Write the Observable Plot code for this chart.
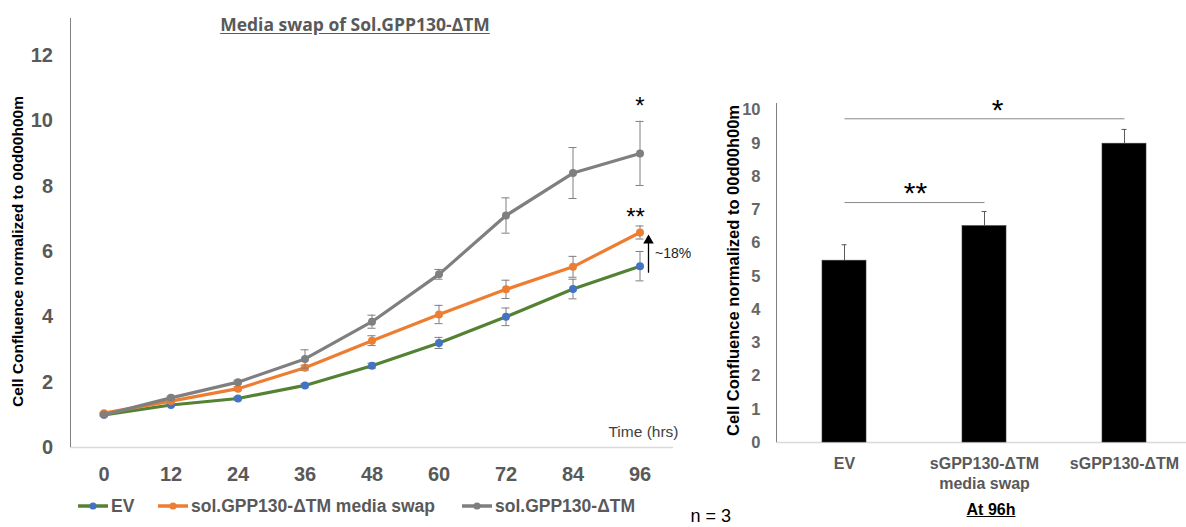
<!DOCTYPE html>
<html>
<head>
<meta charset="utf-8">
<script src="https://cdn.jsdelivr.net/npm/d3@7"></script>
<script src="https://cdn.jsdelivr.net/npm/@observablehq/plot@0.6"></script>
<style>
  body { margin: 0; background: #fff; }
  #wrap { position: relative; width: 1186px; height: 527px; overflow: hidden; font-family: "Liberation Sans", Arial, sans-serif; }
  #left, #right { position: absolute; top: 0; }
  #left { left: 0; }
  #right { left: 680px; }
  .title { position: absolute; left: 0; width: 710px; top: 13px; text-align: center; font-family: "Open Sans", sans-serif; font-weight: 700; font-size: 17.5px; line-height: 22px; color: #595959; text-decoration: underline; text-underline-offset: 2px; }
  .legend .item { position: absolute; top: 496px; height: 20px; display: flex; align-items: center; font-weight: 700; font-size: 17.5px; color: #595959; white-space: nowrap; }
  .legend svg { margin-right: 3px; }
  .at96 { position: absolute; left: 891px; width: 200px; top: 500px; text-align: center; font-weight: 700; font-size: 16px; line-height: 20px; color: #000; text-decoration: underline; }
</style>
</head>
<body>
<div id="wrap">
  <div id="left"></div>
  <div id="right"></div>
  <div class="title">Media swap of Sol.GPP130-ΔTM</div>
  <div class="legend" id="legend"></div>
  <div class="at96">At 96h</div>
</div>
<script>
// ---- Line chart data (Cell confluence over time) ----
const times = [0, 12, 24, 36, 48, 60, 72, 84, 96];
const seriesNames = ["EV", "sol.GPP130-ΔTM media swap", "sol.GPP130-ΔTM"];
const evValues   = [1.00, 1.30, 1.50, 1.90, 2.50, 3.20, 4.00, 4.85, 5.55];
const evErrors   = [0.03, 0.04, 0.05, 0.05, 0.08, 0.17, 0.27, 0.30, 0.45];
const swapValues = [1.05, 1.42, 1.80, 2.44, 3.27, 4.07, 4.84, 5.53, 6.58];
const swapErrors = [0.03, 0.05, 0.06, 0.08, 0.15, 0.28, 0.28, 0.32, 0.20];
const solValues  = [1.00, 1.52, 2.00, 2.71, 3.85, 5.30, 7.10, 8.40, 9.00];
const solErrors  = [0.03, 0.05, 0.06, 0.28, 0.20, 0.15, 0.54, 0.78, 0.98];
const yTicksLeft = [0, 2, 4, 6, 8, 10, 12];

// ---- Bar chart data (at 96h) ----
const barCategories = ["EV", "sGPP130-ΔTM\nmedia swap", "sGPP130-ΔTM"];
const barValues = [5.47, 6.51, 8.99];
const barErrors = [0.48, 0.44, 0.43];
const yTicksRight = [0, 1, 2, 3, 4, 5, 6, 7, 8, 9, 10];
const sigFrom = ["EV", "EV"];
const sigTo = ["sGPP130-ΔTM", "sGPP130-ΔTM\nmedia swap"];
const sigLevels = [9.74, 7.22];
const sigLabels = ["*", "**"];
const sampleNote = "n = 3";

const lineColors = ["#548235", "#ED7D31", "#7F7F7F"];
const markerColors = ["#4472C4", "#ED7D31", "#7F7F7F"];
const legendLeft = [78, 158, 462];
const FONT = "Liberation Sans, Arial, sans-serif";

const valueSets = [evValues, swapValues, solValues];
const errorSets = [evErrors, swapErrors, solErrors];
const series = seriesNames.map((name, k) => ({
  name, color: lineColors[k], marker: markerColors[k],
  rows: times.map((t, i) => ({t, v: valueSets[k][i], e: errorSets[k][i]}))
}));

const capHalf = 0.72; // hours, half width of error caps
const last = times.length - 1;

const seriesMarks = series.flatMap(s => [
  Plot.line(s.rows, {x: "t", y: "v", stroke: s.color, strokeWidth: 3.2, strokeLinejoin: "round", strokeLinecap: "round"}),
  Plot.ruleX(s.rows, {x: "t", y1: d => d.v - d.e, y2: d => d.v + d.e, stroke: "#7f7f7f", strokeWidth: 1}),
  Plot.ruleY(s.rows, {y: d => d.v + d.e, x1: d => d.t - capHalf, x2: d => d.t + capHalf, stroke: "#7f7f7f", strokeWidth: 1}),
  Plot.ruleY(s.rows, {y: d => d.v - d.e, x1: d => d.t - capHalf, x2: d => d.t + capHalf, stroke: "#7f7f7f", strokeWidth: 1}),
  Plot.dot(s.rows, {x: "t", y: "v", r: 4, fill: s.marker, stroke: "none"})
]);

const tEnd = times[last];
const left = Plot.plot({
  width: 700, height: 527,
  marginLeft: 70, marginRight: 27, marginTop: 18, marginBottom: 80,
  style: {fontFamily: FONT, fontWeight: "bold", background: "transparent", overflow: "visible"},
  x: {domain: [-6, 102]},
  y: {domain: [0, 13.13]},
  marks: [
    Plot.ruleY([0], {stroke: "#d9d9d9", strokeWidth: 1.3}),
    Plot.ruleX([-6], {stroke: "#808080", strokeWidth: 1}),
    Plot.axisX(times, {tickSize: 0, tickPadding: 19, fontSize: 20, fontWeight: "bold", fill: "#595959", label: null}),
    Plot.axisY(yTicksLeft, {tickSize: 0, tickPadding: 17.5, fontSize: 20, fontWeight: "bold", fill: "#595959", label: null}),
    ...seriesMarks,
    // significance marks at 96h
    Plot.text([{t: tEnd, v: solValues[last] + solErrors[last]}], {x: "t", y: "v", text: () => "*", dy: -14.8, lineAnchor: "middle", fontSize: 24, fontWeight: "normal", fill: "#000"}),
    Plot.text([{t: tEnd, v: swapValues[last] + swapErrors[last]}], {x: "t", y: "v", text: () => "**", dx: -4.4, dy: -8.3, lineAnchor: "middle", fontSize: 24, fontWeight: "normal", fill: "#000"}),
    // ~18% arrow
    Plot.arrow([{t: tEnd, a: evValues[last], b: swapValues[last]}], {x1: "t", x2: "t", y1: "a", y2: "b", dx: 8.5, insetStart: -6, insetEnd: 4, headLength: 0, stroke: "#000", strokeWidth: 1.3}),
    Plot.dot([{t: tEnd, b: swapValues[last]}], {x: "t", y: "b", dx: 8.5, dy: 8, symbol: "triangle", r: 3.9, fill: "#000", stroke: "none"}),
    Plot.text([{t: tEnd, m: (evValues[last] + swapValues[last]) / 2}], {x: "t", y: "m", text: () => "~18%", dx: 15, dy: 4, textAnchor: "start", lineAnchor: "middle", fontSize: 14, fontWeight: "normal", fill: "#222"}),
    Plot.text(["Time (hrs)"], {frameAnchor: "bottom-right", textAnchor: "end", lineAnchor: "middle", dx: 5, dy: -15, fontSize: 15.5, fontWeight: "normal", fill: "#404040"}),
    Plot.text(["Cell Confluence normalized to 00d00h00m"], {frameAnchor: "left", textAnchor: "middle", rotate: -90, dx: -52, dy: 18.5, lineAnchor: "middle", fontSize: 15.5, fontWeight: "bold", fill: "#000"})
  ]
});
document.getElementById("left").append(left);

// legend
const legend = document.getElementById("legend");
series.forEach((s, k) => {
  const item = document.createElement("div");
  item.className = "item";
  item.style.left = legendLeft[k] + "px";
  item.innerHTML = `<svg width="30" height="12"><line x1="0" y1="6" x2="30" y2="6" stroke="${s.color}" stroke-width="3.5"/><circle cx="15" cy="6" r="3.6" fill="${s.marker}"/></svg><span>${s.name}</span>`;
  legend.append(item);
});

// ---- Bar chart ----
const bars = barCategories.map((cat, i) => ({cat, v: barValues[i], e: barErrors[i]}));
const sig = sigLabels.map((label, i) => ({label, from: sigFrom[i], to: sigTo[i], level: sigLevels[i]}));

const right = Plot.plot({
  width: 506, height: 527,
  marginLeft: 96, marginRight: 0, marginTop: 103, marginBottom: 85,
  style: {fontFamily: FONT, fontWeight: "bold", background: "transparent", overflow: "visible"},
  x: {domain: barCategories, range: [94, 514], paddingInner: 0.686, paddingOuter: 0.343, align: 0.5, axis: null},
  y: {domain: [0, 10.2]},
  marks: [
    Plot.ruleY([0], {stroke: "#d9d9d9", strokeWidth: 1.3}),
    Plot.ruleX([barCategories[0]], {dx: -68, stroke: "#808080", strokeWidth: 1}),
    Plot.axisY(yTicksRight, {tickSize: 0, tickPadding: 16, fontSize: 16.5, fontWeight: "bold", fill: "#666", label: null}),
    Plot.barY(bars, {x: "cat", y: "v", fill: "#000", stroke: "#3a3a3a", strokeWidth: 0.6}),
    Plot.ruleX(bars, {x: "cat", y1: "v", y2: d => d.v + d.e, stroke: "#595959", strokeWidth: 1}),
    Plot.tickY(bars, {x: "cat", y: d => d.v + d.e, insetLeft: 19.5, insetRight: 19.5, stroke: "#595959", strokeWidth: 1}),
    Plot.link(sig, {x1: "from", x2: "to", y1: "level", y2: "level", stroke: "#8a8a8a", strokeWidth: 1}),
    Plot.text([sig[0]], {x: "from", y: "level", text: "label", dx: 153, dy: -8.7, lineAnchor: "middle", fontSize: 30, fontWeight: "normal", fill: "#000"}),
    Plot.text([sig[1]], {x: "from", y: "level", text: "label", dx: 71, dy: -9.2, lineAnchor: "middle", fontSize: 30, fontWeight: "normal", fill: "#000"}),
    Plot.text(bars, {x: "cat", text: "cat", frameAnchor: "bottom", lineAnchor: "top", dy: 12.3, lineHeight: 1.25, fontSize: 16, fontWeight: "bold", fill: "#595959"}),
    Plot.text(["Cell Confluence normalized to 00d00h00m"], {frameAnchor: "left", textAnchor: "middle", rotate: -90, dx: -43, dy: -2.5, lineAnchor: "middle", fontSize: 16.5, fontWeight: "bold", fill: "#000"}),
    Plot.text([sampleNote], {frameAnchor: "bottom-left", textAnchor: "start", lineAnchor: "middle", dx: -86, dy: 74, fontSize: 18, fontWeight: "normal", fill: "#000"})
  ]
});
document.getElementById("right").append(right);
</script>
</body>
</html>
